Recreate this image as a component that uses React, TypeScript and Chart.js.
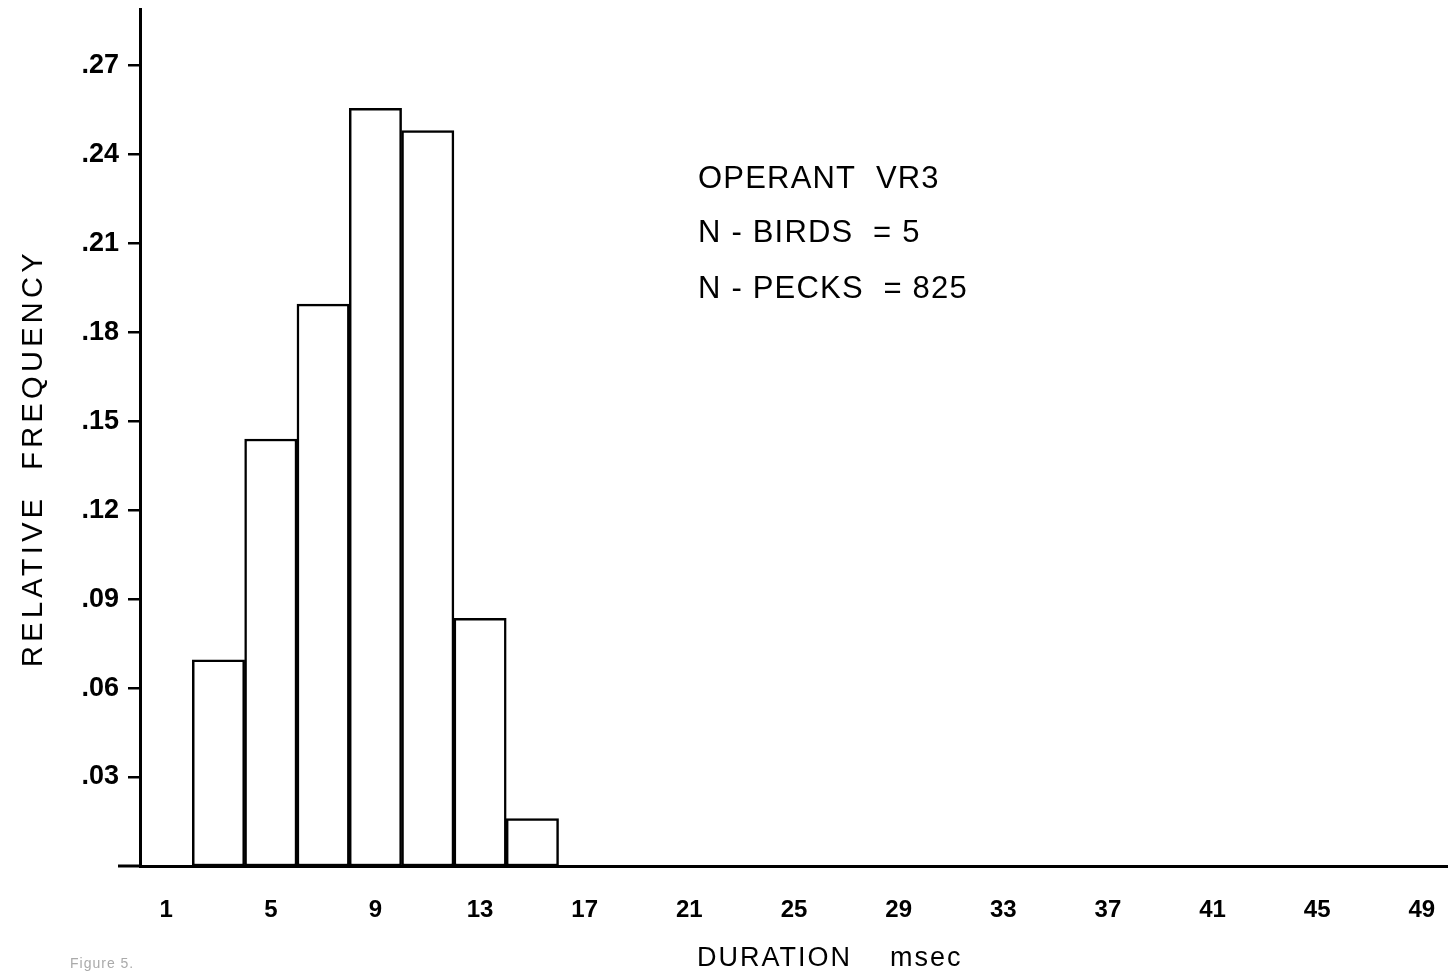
import { useEffect, useRef } from "react";
import { Chart, registerables } from "chart.js";

Chart.register(...registerables);

// ---- data ----
const BIN_CENTERS = [3, 5, 7, 9, 11, 13, 15];
const REL_FREQ = [0.0695, 0.144, 0.1895, 0.2555, 0.248, 0.0835, 0.016];
const X_TICKS = [1, 5, 9, 13, 17, 21, 25, 29, 33, 37, 41, 45, 49];
const Y_TICKS = [0.03, 0.06, 0.09, 0.12, 0.15, 0.18, 0.21, 0.24, 0.27];
const X_TITLE_MAIN = "DURATION";
const X_TITLE_UNIT = "msec";
const Y_TITLE = "RELATIVE  FREQUENCY";
const NOTE_LINES = ["OPERANT  VR3", "N - BIRDS  = 5", "N - PECKS  = 825"];
const FIG_LABEL = "Figure 5.";

const FONT = "'Liberation Sans', Arial, Helvetica, sans-serif";

const textPlugin = {
  id: "textPlugin",
  afterDraw(chart: any) {
    const ctx = chart.ctx as CanvasRenderingContext2D;
    const area = chart.chartArea;
    ctx.save();
    ctx.strokeStyle = "#000";
    ctx.lineWidth = 3;
    ctx.lineCap = "butt";
    // x axis extends a little left of the y axis
    ctx.beginPath();
    ctx.moveTo(area.left - 22, area.bottom);
    ctx.lineTo(area.left, area.bottom);
    ctx.stroke();

    ctx.fillStyle = "#000";
    // y title
    ctx.save();
    ctx.translate(42, 458);
    ctx.rotate(-Math.PI / 2);
    ctx.font = `29px ${FONT}`;
    (ctx as any).letterSpacing = "4.3px";
    ctx.textAlign = "center";
    ctx.textBaseline = "alphabetic";
    ctx.fillText(Y_TITLE, 0, 0);
    ctx.restore();

    // x title
    ctx.font = `27px ${FONT}`;
    (ctx as any).letterSpacing = "2px";
    ctx.textAlign = "left";
    ctx.textBaseline = "alphabetic";
    ctx.fillText(X_TITLE_MAIN, 697, 966);
    ctx.fillText(X_TITLE_UNIT, 890, 966);

    // annotation
    ctx.font = `31px ${FONT}`;
    (ctx as any).letterSpacing = "1.2px";
    const baselines = [188, 242, 298];
    NOTE_LINES.forEach((t, i) => ctx.fillText(t, 698, baselines[i]));

    // faint figure label
    ctx.font = `14px ${FONT}`;
    (ctx as any).letterSpacing = "1px";
    ctx.fillStyle = "#aaa";
    ctx.fillText(FIG_LABEL, 70, 968);
    ctx.restore();
  },
};

export default function App() {
  const ref = useRef<HTMLCanvasElement | null>(null);
  useEffect(() => {
    if (!ref.current) return;
    const chart = new Chart(ref.current, {
      type: "bar",
      data: {
        datasets: [
          {
            data: BIN_CENTERS.map((x, i) => ({ x, y: REL_FREQ[i] })),
            backgroundColor: "#fff",
            borderColor: "#000",
            borderWidth: 2.5,
            borderSkipped: false,
            barPercentage: 1,
            categoryPercentage: 1,
          } as any,
        ],
      },
      options: {
        animation: false,
        responsive: false,
        layout: { padding: { top: 9, right: 0, left: 0, bottom: 0 } },
        plugins: { legend: { display: false }, tooltip: { enabled: false } },
        scales: {
          x: {
            type: "linear",
            offset: false,
            min: 0,
            max: 50,
            afterBuildTicks: (s: any) => {
              s.ticks = X_TICKS.map((v) => ({ value: v }));
            },
            afterFit: (s: any) => {
              s.height = 108;
              s.paddingLeft = 0;
              s.paddingRight = 0;
            },
            grid: { display: false, drawTicks: false, offset: false },
            border: { display: true, color: "#000", width: 3 },
            ticks: {
              color: "#000",
              autoSkip: false,
              maxRotation: 0,
              padding: 30,
              font: { family: FONT, size: 24, weight: "bold" },
              callback: (v: any) => String(v),
            },
          },
          y: {
            min: 0,
            max: 0.289,
            afterBuildTicks: (s: any) => {
              s.ticks = Y_TICKS.map((v) => ({ value: v }));
            },
            afterFit: (s: any) => {
              s.width = 140;
              s.paddingTop = 0;
              s.paddingBottom = 0;
            },
            grid: {
              display: true,
              drawOnChartArea: false,
              drawTicks: true,
              tickLength: 12,
              color: "#000",
              lineWidth: 2.5,
            },
            border: { display: true, color: "#000", width: 3 },
            ticks: {
              color: "#000",
              padding: 9,
              font: { family: FONT, size: 27, weight: "bold" },
              callback: (v: any) =>
                "." + String(Math.round(Number(v) * 100)).padStart(2, "0"),
            },
          },
        },
      } as any,
      plugins: [textPlugin],
    });
    return () => chart.destroy();
  }, []);
  return (
    <div style={{ position: "fixed", left: 0, top: 0, width: 1448, height: 974, background: "#fff" }}>
      <canvas ref={ref} width={1448} height={974} style={{ display: "block" }} />
    </div>
  );
}
